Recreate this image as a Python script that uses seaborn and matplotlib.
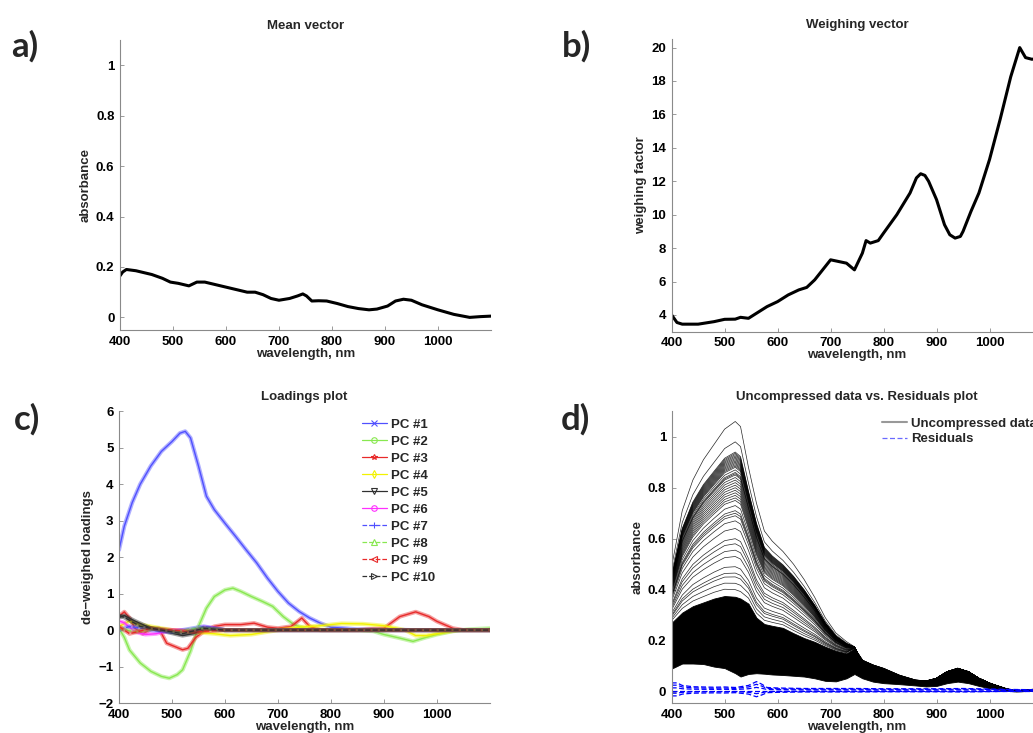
import numpy as np
import matplotlib
matplotlib.use("Agg")
import matplotlib.pyplot as plt
import seaborn as sns
from matplotlib.lines import Line2D
from matplotlib.ticker import FuncFormatter

# ----------------------------
# a) mean vector
# ----------------------------
mean_wl = [400, 405, 412, 430, 460, 480, 495, 510, 520, 530, 545, 560, 580, 600, 620, 640,
           655, 670, 685, 700, 720, 735, 745, 752, 762, 775, 790, 810, 830, 850, 870, 885,
           905, 920, 935, 950, 970, 1000, 1030, 1060, 1080, 1100]
mean_abs = [0.165, 0.18, 0.19, 0.185, 0.17, 0.155, 0.14, 0.135, 0.13, 0.125, 0.14, 0.14, 0.13,
            0.12, 0.11, 0.10, 0.10, 0.09, 0.075, 0.068, 0.075, 0.085, 0.093, 0.085, 0.065,
            0.066, 0.065, 0.055, 0.043, 0.035, 0.03, 0.033, 0.045, 0.065, 0.072, 0.068, 0.05,
            0.03, 0.012, 0.0, 0.003, 0.005]

# ----------------------------
# b) weighing vector
# ----------------------------
weigh_wl = [400, 410, 420, 450, 480, 500, 520, 530, 545, 560, 580, 600, 620, 640, 655, 670,
            685, 700, 715, 730, 745, 760, 767, 775, 790, 800, 825, 850, 862, 870, 878, 885,
            900, 915, 925, 935, 945, 950, 965, 980, 1000, 1020, 1040, 1057, 1068, 1080, 1100]
weigh_val = [4.0, 3.55, 3.45, 3.45, 3.6, 3.74, 3.75, 3.86, 3.8, 4.1, 4.5, 4.8, 5.2, 5.5, 5.65,
             6.1, 6.7, 7.3, 7.2, 7.1, 6.7, 7.7, 8.45, 8.3, 8.45, 8.9, 10.0, 11.3, 12.2, 12.45,
             12.35, 12.0, 10.9, 9.4, 8.8, 8.6, 8.7, 9.0, 10.2, 11.3, 13.3, 15.7, 18.25, 20.0,
             19.4, 19.3, 19.4]

# ----------------------------
# c) loadings, PC #1 .. PC #10
# ----------------------------
pc1_wl = [400, 410, 425, 440, 460, 480, 500, 515, 525, 535, 550, 565, 580, 600, 620, 640, 660,
          680, 700, 720, 740, 760, 780, 800, 850, 900, 950, 1000, 1050, 1100]
pc1 = [2.2, 2.85, 3.5, 4.0, 4.5, 4.9, 5.17, 5.4, 5.45, 5.27, 4.5, 3.67, 3.3, 2.93, 2.57, 2.2,
       1.84, 1.43, 1.06, 0.74, 0.51, 0.33, 0.19, 0.08, 0.02, 0.02, 0.0, 0.0, 0.0, 0.0]
pc2_wl = [400, 410, 420, 440, 460, 480, 495, 510, 520, 535, 550, 565, 580, 600, 615, 630, 650,
          670, 690, 710, 730, 750, 780, 850, 880, 900, 930, 955, 975, 1000, 1030, 1060, 1100]
pc2 = [0.05, -0.2, -0.55, -0.9, -1.13, -1.27, -1.32, -1.22, -1.09, -0.58, 0.1, 0.6, 0.92, 1.1,
       1.15, 1.06, 0.92, 0.79, 0.65, 0.37, 0.15, 0.05, 0.0, 0.0, -0.03, -0.12, -0.22, -0.31,
       -0.22, -0.12, -0.03, 0.02, 0.05]
pc3_wl = [400, 410, 420, 430, 445, 460, 475, 490, 505, 520, 530, 545, 560, 580, 600, 630, 655,
          680, 700, 725, 745, 760, 780, 850, 900, 930, 960, 985, 1000, 1030, 1050, 1100]
pc3 = [0.38, 0.5, 0.33, 0.05, -0.1, 0.02, 0.05, -0.36, -0.45, -0.54, -0.5, -0.2, -0.04, 0.1,
       0.15, 0.15, 0.19, 0.08, 0.05, 0.1, 0.33, 0.1, 0.0, 0.0, 0.05, 0.37, 0.5, 0.37, 0.24,
       0.05, 0.0, 0.0]
pc4_wl = [400, 420, 440, 460, 480, 500, 540, 580, 610, 650, 700, 740, 780, 820, 860, 900, 940,
          960, 980, 1000, 1040, 1100]
pc4 = [0.1, 0.25, 0.15, 0.1, 0.05, 0.0, -0.05, -0.1, -0.15, -0.12, 0.0, 0.08, 0.12, 0.18, 0.17,
       0.12, 0.0, -0.15, -0.15, -0.1, 0.0, 0.0]
pc5_wl = [400, 410, 430, 460, 490, 520, 540, 570, 600, 700, 800, 900, 1000, 1100]
pc5 = [0.35, 0.4, 0.25, 0.05, -0.05, -0.15, -0.1, 0.05, 0.0, 0.0, 0.0, 0.0, 0.0, 0.0]
pc6_wl = [400, 410, 430, 450, 470, 500, 540, 560, 580, 600, 700, 800, 900, 1000, 1100]
pc6 = [0.25, 0.2, -0.05, -0.12, -0.1, 0.0, 0.0, 0.08, 0.05, 0.0, 0.0, 0.0, 0.0, 0.0, 0.0]
pc7_wl = [400, 420, 460, 500, 560, 600, 700, 800, 900, 1000, 1100]
pc7 = [0.0, 0.1, 0.0, -0.05, 0.1, 0.0, 0.0, 0.0, 0.0, 0.0, 0.0]
pc8_wl = [400, 430, 470, 510, 550, 600, 700, 800, 900, 1000, 1100]
pc8 = [0.05, -0.05, 0.05, -0.05, 0.05, 0.0, 0.0, 0.0, 0.0, 0.0, 0.0]
pc9_wl = [400, 420, 460, 500, 540, 600, 700, 800, 900, 1000, 1100]
pc9 = [0.1, -0.1, 0.05, 0.0, -0.05, 0.0, 0.0, 0.0, 0.0, 0.0, 0.0]
pc10_wl = [400, 410, 440, 480, 520, 560, 600, 700, 800, 900, 1000, 1100]
pc10 = [0.4, 0.35, 0.1, 0.0, -0.1, 0.05, 0.0, 0.0, 0.0, 0.0, 0.0, 0.0]

pc_labels = ["PC #%d" % i for i in range(1, 11)]
pc_colors = ["#5050ff", "#88e850", "#e82a2a", "#f2f200", "#303030",
             "#ff30ff", "#5050ff", "#88e850", "#e82a2a", "#303030"]
pc_markers = ["x", "o", "*", "d", "v", "o", "+", "^", "<", ">"]
pc_styles = ["-", "-", "-", "-", "-", "-", "--", "--", "--", "--"]

# ----------------------------
# d) uncompressed spectra + residuals
# ----------------------------
d_wl = [400, 420, 440, 460, 480, 500, 520, 530, 545, 560, 575, 590, 610, 630, 650, 670, 690,
        710, 730, 745, 760, 780, 800, 830, 860, 880, 900, 920, 940, 960, 980, 1000, 1030, 1050,
        1080, 1100]
top_curve = [0.49, 0.71, 0.83, 0.91, 0.97, 1.03, 1.06, 1.04, 0.88, 0.74, 0.63, 0.59, 0.55, 0.50,
             0.44, 0.37, 0.29, 0.23, 0.196, 0.176, 0.11, 0.098, 0.078, 0.052, 0.039, 0.039,
             0.052, 0.078, 0.089, 0.078, 0.052, 0.033, 0.01, 0.0, 0.007, 0.01]
band_top = [0.27, 0.31, 0.335, 0.35, 0.365, 0.375, 0.372, 0.365, 0.345, 0.29, 0.265, 0.258,
            0.25, 0.229, 0.21, 0.195, 0.176, 0.16, 0.15, 0.17, 0.124, 0.105, 0.092, 0.065,
            0.046, 0.042, 0.052, 0.078, 0.092, 0.078, 0.052, 0.033, 0.013, 0.003, 0.009, 0.01]
band_bottom = [0.09, 0.11, 0.11, 0.108, 0.098, 0.092, 0.072, 0.059, 0.069, 0.072, 0.07, 0.067,
               0.065, 0.062, 0.059, 0.052, 0.042, 0.04, 0.052, 0.069, 0.052, 0.039, 0.033,
               0.029, 0.024, 0.020, 0.022, 0.033, 0.039, 0.033, 0.022, 0.013, 0.004, 0.0,
               0.003, 0.005]
# peak heights (at 520 nm) of the sparse spectra above the dense band
peak_heights = [1.06, 0.98, 0.94, 0.935, 0.93, 0.925, 0.92, 0.915, 0.91, 0.905, 0.90, 0.895,
                0.89, 0.885, 0.88, 0.87, 0.86, 0.855, 0.85, 0.84, 0.83, 0.82, 0.81, 0.80, 0.79,
                0.78, 0.77, 0.76, 0.75, 0.73, 0.71, 0.70, 0.69, 0.67, 0.64, 0.60, 0.58, 0.555,
                0.53, 0.49, 0.465, 0.45, 0.425, 0.40]

res_wl = [400, 410, 420, 440, 460, 480, 500, 520, 530, 545, 560, 570, 580, 600, 650, 700, 750,
          800, 850, 900, 950, 1000, 1050, 1100]
res_amp = [0.03, 0.03, 0.02, 0.015, 0.014, 0.013, 0.014, 0.012, 0.015, 0.02, 0.035, 0.025,
           0.012, 0.01, 0.008, 0.008, 0.008, 0.007, 0.007, 0.007, 0.008, 0.006, 0.004, 0.003]
res_levels = [-0.7, -0.35, 0.0, 0.35, 0.7, 1.0]


# ============================
# Figure
# ============================
sns.set_theme(style="ticks")
plt.rcParams['font.family'] = ['Liberation Sans', 'DejaVu Sans']
plt.rcParams['font.weight'] = 'bold'
plt.rcParams['axes.labelweight'] = 'bold'
plt.rcParams['axes.titleweight'] = 'bold'

FS = 9.5

fig = plt.figure(figsize=(10.33, 7.33), dpi=100)
fig.patch.set_facecolor("white")

ax_a = fig.add_axes([0.1162, 0.5498, 0.359, 0.3956])
ax_b = fig.add_axes([0.6502, 0.5475, 0.359, 0.3990])
ax_c = fig.add_axes([0.1152, 0.0409, 0.359, 0.3980])
ax_d = fig.add_axes([0.6502, 0.0409, 0.359, 0.3980])

fmt = FuncFormatter(lambda v, p: ("%g" % v).replace("-", "\u2212"))


def style_axes(ax, title, ylabel):
    sns.despine(ax=ax)
    ax.set_facecolor("white")
    for s in ["left", "bottom"]:
        ax.spines[s].set_color("#8a8a8a")
        ax.spines[s].set_linewidth(0.8)
    ax.tick_params(direction="in", length=3, width=0.6, color="#8a8a8a",
                   labelsize=FS, pad=4, labelcolor="black")
    ax.set_xlim(400, 1100)
    ax.set_xticks(range(400, 1001, 100))
    ax.yaxis.set_major_formatter(fmt)
    ax.set_title(title, fontsize=FS, fontweight="bold", pad=8)
    ax.set_xlabel("wavelength, nm", fontsize=FS, fontweight="bold", labelpad=0)
    ax.set_ylabel(ylabel, fontsize=FS, fontweight="bold", labelpad=3)
    ax.grid(False)


# a)
sns.lineplot(x=mean_wl, y=mean_abs, ax=ax_a, color="black", lw=2.2)
style_axes(ax_a, "Mean vector", "absorbance")
ax_a.set_ylim(-0.05, 1.1)
ax_a.set_yticks([0, 0.2, 0.4, 0.6, 0.8, 1])

# b)
sns.lineplot(x=weigh_wl, y=weigh_val, ax=ax_b, color="black", lw=2.2)
style_axes(ax_b, "Weighing vector", "weighing factor")
ax_b.set_ylim(3, 20.5)
ax_b.set_yticks(range(4, 21, 2))

# c)
pc_wls = [pc1_wl, pc2_wl, pc3_wl, pc4_wl, pc5_wl, pc6_wl, pc7_wl, pc8_wl, pc9_wl, pc10_wl]
pc_vals = [pc1, pc2, pc3, pc4, pc5, pc6, pc7, pc8, pc9, pc10]
pc_handles = []
for i in range(10):
    sns.lineplot(x=pc_wls[i], y=pc_vals[i], ax=ax_c, color=pc_colors[i], lw=3.0,
                 alpha=0.45, linestyle="-")
    sns.lineplot(x=pc_wls[i], y=pc_vals[i], ax=ax_c, color=pc_colors[i], lw=1.0,
                 linestyle=pc_styles[i])
    pc_handles.append(Line2D([], [], color=pc_colors[i], lw=0.9, linestyle=pc_styles[i],
                             marker=pc_markers[i], markersize=4, markerfacecolor="none",
                             markeredgewidth=0.8))
style_axes(ax_c, "Loadings plot", "de\u2212weighed loadings")
ax_c.set_ylim(-2, 6)
ax_c.set_yticks(range(-2, 7))
ax_c.legend(pc_handles, pc_labels, loc="upper left", bbox_to_anchor=(0.655, 0.975),
            frameon=False, prop={"size": FS, "weight": "bold"}, handlelength=1.9,
            handletextpad=0.3, labelspacing=0.36, borderaxespad=0, borderpad=0)

# d)
top = np.array(top_curve)
btop = np.array(band_top)
ax_d.fill_between(d_wl, band_bottom, band_top, color="black", lw=0.6, edgecolor="black")
for h in peak_heights:
    f = (h - 0.372) / (1.06 - 0.372)
    ax_d.plot(d_wl, btop + f * (top - btop), color="black", lw=0.5, alpha=0.85)
amp = np.array(res_amp)
for k in res_levels:
    ax_d.plot(res_wl, 0.004 + k * amp, color="blue", lw=0.9, linestyle=(0, (4, 2)))
style_axes(ax_d, "Uncompressed data vs. Residuals plot", "absorbance")
ax_d.set_ylim(-0.045, 1.1)
ax_d.set_yticks([0, 0.2, 0.4, 0.6, 0.8, 1])
handles = [Line2D([], [], color="#999999", lw=1.5),
           Line2D([], [], color="#6a6aff", lw=0.9, linestyle=(0, (4, 2)))]
ax_d.legend(handles, ["Uncompressed data", "Residuals"], loc="upper left",
            bbox_to_anchor=(0.567, 0.978), frameon=False,
            prop={"size": FS, "weight": "bold"}, handlelength=1.9, handletextpad=0.3,
            labelspacing=0.25, borderaxespad=0, borderpad=0)

# panel letters
for lbl, x, y in [("a)", 11, 46), ("b)", 562, 46), ("c)", 14, 419), ("d)", 561, 419)]:
    fig.text(x / 1033, 1 - y / 733, lbl, fontsize=25, fontweight="bold",
             family=["Lato", "DejaVu Sans"], ha="left", va="center")

fig.savefig("out.png", dpi=100)
